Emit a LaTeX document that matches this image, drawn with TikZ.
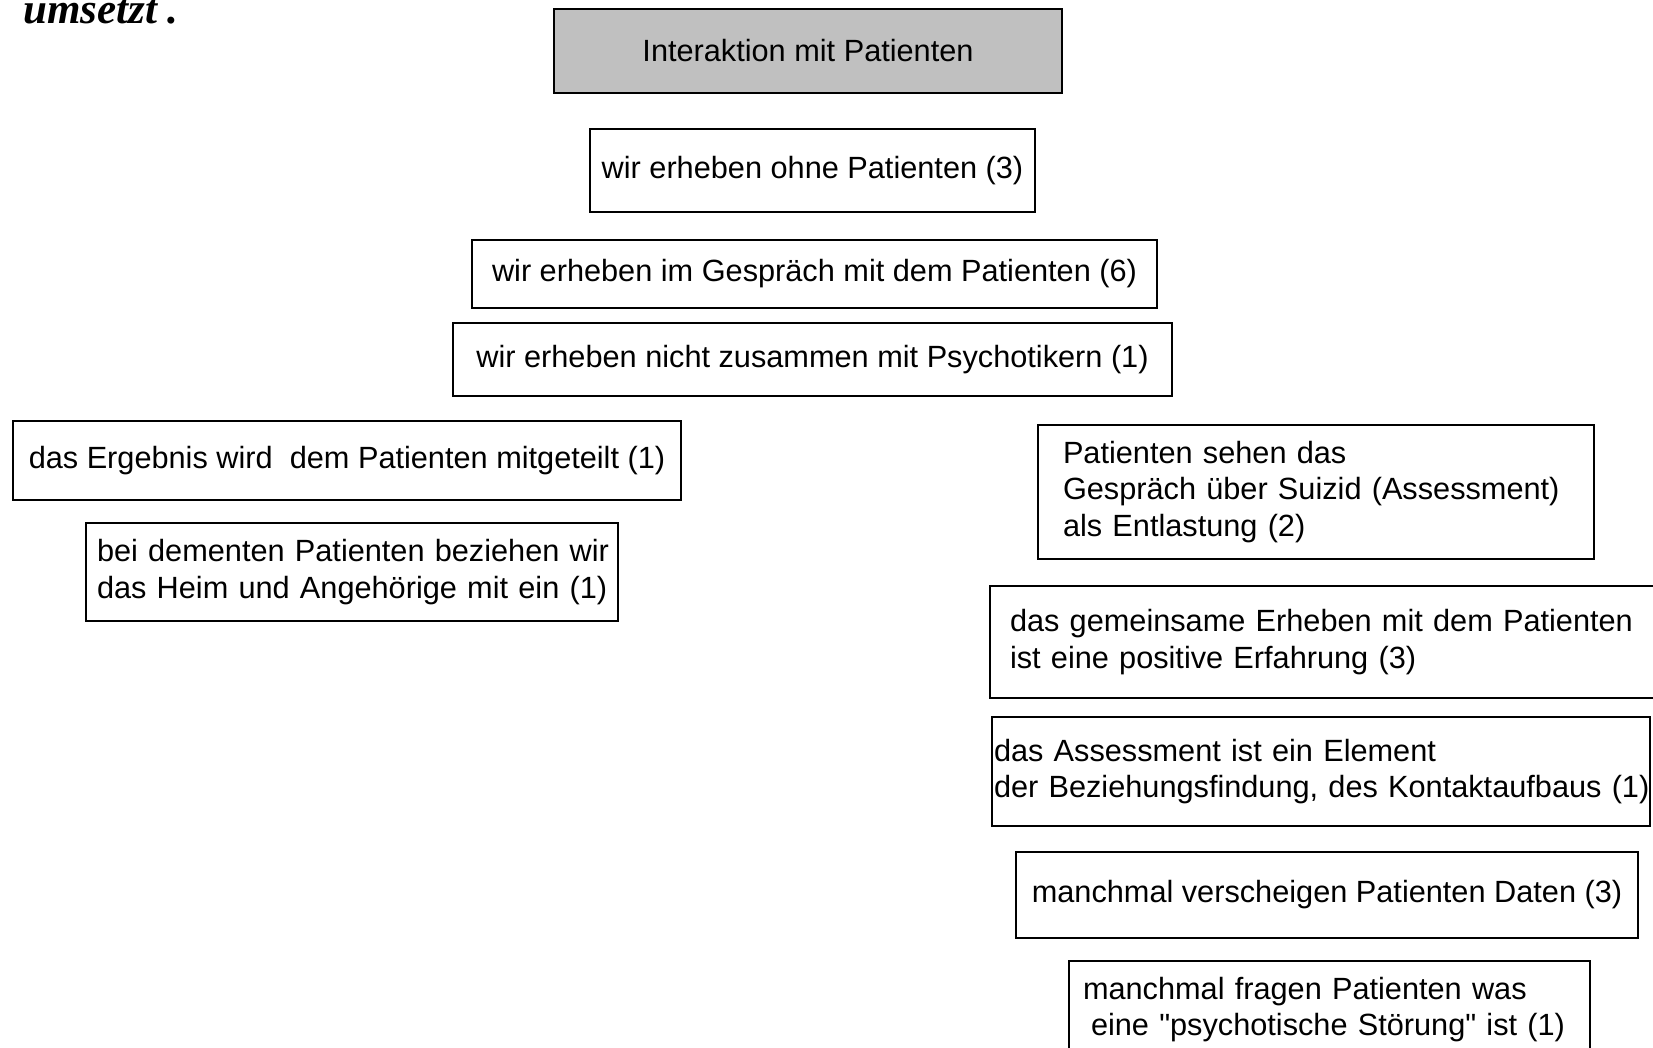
\documentclass[tikz,border=0pt]{standalone}
\usepackage{fontspec}
\newfontfamily\boxfont{Liberation Sans}
\newfontfamily\headfont{Liberation Serif}
\usepackage{xcolor}
\usetikzlibrary{positioning}
\definecolor{titlegray}{RGB}{192,192,192}
\tikzset{
  box/.style={draw, line width=1pt, inner sep=0pt, font=\boxfont\fontsize{15.35}{18.2}\selectfont},
  single/.style={box, align=center},
  multi/.style={box, align=left},
}

\begin{document}
\begin{tikzpicture}[x=0.5pt, y=-0.5pt]
		\useasboundingbox (0,0) rectangle (1653,1048);
		\clip (0,0) rectangle (1653,1048);
		
		% end of the sentence above the picture
		\node[anchor=base west, inner sep=0pt, font=\headfont\bfseries\itshape\fontsize{21.5}{24}\selectfont] (head) at (23,24) {umsetzt .};
		
		% main topic
		\node[single, fill=titlegray, minimum width=254pt, minimum height=42pt] (title) at (808,51) {Interaktion mit Patienten};
		
		% centre column
		\node[single, minimum width=222.5pt, minimum height=41.5pt] (ohne) at (812.5,170.5) {wir erheben ohne Patienten (3)};
		\node[single, minimum width=342.5pt, minimum height=34pt] (gespraech) at (814.5,274) {wir erheben im Gespräch mit dem Patienten (6)};
		\node[single, minimum width=359.5pt, minimum height=36.5pt] (psycho) at (812.5,359.5) {wir erheben nicht zusammen mit Psychotikern (1)};
		
		% left column
		\node[single, minimum width=334pt, minimum height=39.5pt] (ergebnis) at (347,460.5) {das Ergebnis wird\ \ dem Patienten mitgeteilt (1)};
		\node[multi, inner xsep=5.5pt, text width=255pt, minimum height=49pt] (dement) at (352,572) {\mbox{bei dementen Patienten beziehen wir}\\\mbox{das Heim und Angehörige mit ein (1)}};
		
		% right column
		\node[multi, inner xsep=12.5pt, text width=253pt, minimum height=67pt] (entlastung) at (1316,492) {Patienten sehen das\\\mbox{Gespräch über Suizid (Assessment)}\\als Entlastung (2)};
		\node[multi, inner xsep=10pt, text width=316pt, minimum height=56pt] (gemeinsam) at (1326,642) {\mbox{das gemeinsame Erheben mit dem Patienten}\\ist eine positive Erfahrung (3)};
		\node[multi, inner xsep=1pt, text width=327pt, minimum height=54.5pt] (element) at (1321,771.5) {das Assessment ist ein Element\\\mbox{der Beziehungsfindung, des Kontaktaufbaus (1)}};
		\node[single, minimum width=311pt, minimum height=43pt] (daten) at (1327,895) {manchmal verscheigen Patienten Daten (3)};
		\node[multi, inner xsep=7pt, text width=246.5pt, minimum height=48.5pt] (fragen) at (1329.5,1009.5) {manchmal fragen Patienten was\\\mbox{\hspace*{4pt}eine "psychotische Störung" ist (1)}};
	\end{tikzpicture}
\end{document}
